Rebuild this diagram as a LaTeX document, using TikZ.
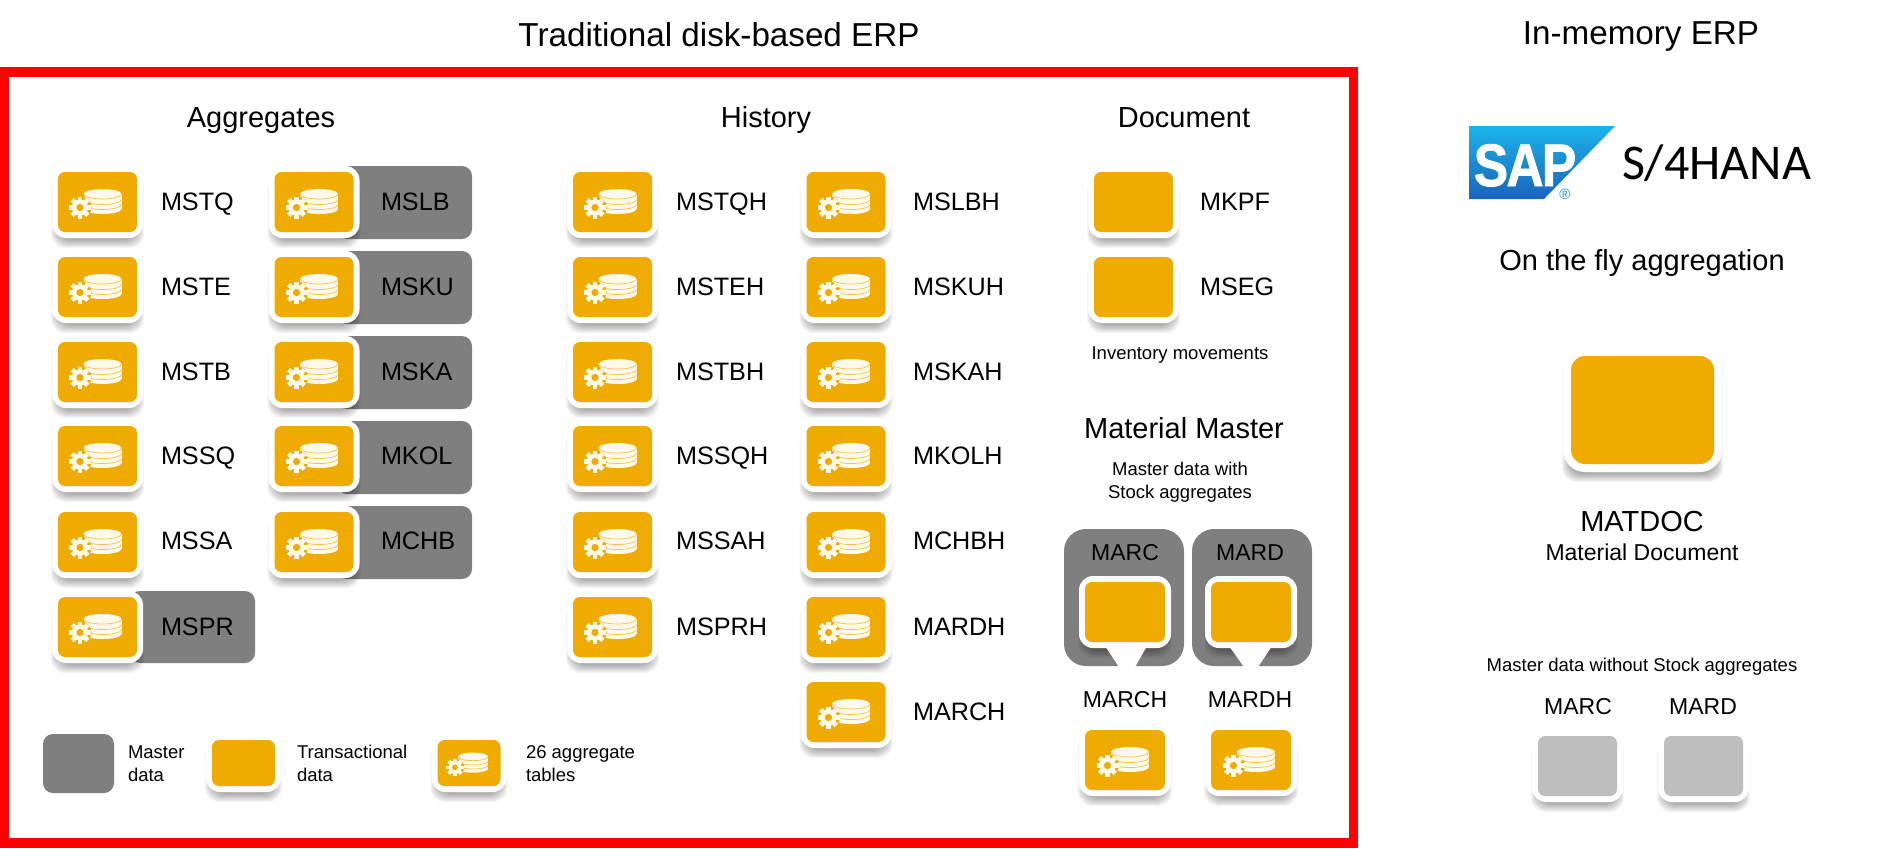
\documentclass[tikz,border=0pt]{standalone}
\usepackage{fontspec}
\setmainfont{Liberation Sans}
\newfontfamily\calibrifont{Carlito}
\newfontfamily\sapfont[FakeStretch=0.86,FakeBold=1.2,LetterSpace=-3]{Liberation Sans Bold}
\definecolor{sapgold}{HTML}{F0AB00}
\definecolor{mastergrey}{HTML}{807F80}
\definecolor{lightgrey}{HTML}{BFBEBF}
\definecolor{cream}{HTML}{FFF9EA}
\definecolor{saplight}{HTML}{1BB3EA}
\definecolor{sapdark}{HTML}{1A64BC}
\tikzset{
  txt/.style={inner sep=0pt,outer sep=0pt,text=black},
  big/.style={txt,font=\fontsize{16.6}{20}\selectfont,anchor=base},
  head/.style={txt,font=\fontsize{14.5}{18}\selectfont,anchor=base},
  lab/.style={txt,font=\fontsize{12.6}{15}\selectfont,anchor=base west},
  labc/.style={txt,font=\fontsize{11.5}{14}\selectfont,anchor=base},
  small/.style={txt,font=\fontsize{9.25}{11.5}\selectfont,anchor=base},
  smallw/.style={txt,font=\fontsize{9.25}{11.5}\selectfont,anchor=base west},
  plate/.style={draw=none,fill=white,inner sep=0pt,minimum width=#1*0.5pt,rounded corners=7pt},
  facebox/.style={draw=none,inner sep=0pt,minimum width=#1*0.5pt,rounded corners=3.5pt},
  greybar/.style={draw=none,fill=mastergrey,inner sep=0pt,rounded corners=5pt}
}
% soft shadow under a plate: centre x, centre y, half width, half height
\newcommand{\softshadow}[4]{%
  \foreach \k in {0,...,8}{%
    \fill[black,opacity=.04,rounded corners=7pt]
      ({#1-#3-1+0.9*\k},{#2-#4+10}) rectangle ({#1+#3+1-0.9*\k},{#2+#4+10-\k});
  }%
}
% stylised database + gear glyph
\newcommand{\dbicon}[3]{%
  \begin{scope}[shift={(#1,#2)},scale=#3]
    \fill[cream] (-14,-8) rectangle (24,7);
    \fill[cream] (5,-8) ellipse[x radius=19,y radius=5];
    \fill[cream] (5,7) ellipse[x radius=19,y radius=5];
    \foreach \yy in {-8,-2.5,2.5}{%
      \draw[sapgold!70!cream,line width=.35pt] (-14,\yy) arc[start angle=180,end angle=0,x radius=19,y radius=5];
    }
    \begin{scope}[shift={(-17.5,5.5)}]
      \fill[sapgold] (0,0) circle[radius=11.5];
      \foreach \a in {0,45,90,135}{%
        \fill[cream,rotate=\a] (-2.4,-11) rectangle (2.4,11);
      }
      \fill[cream] (0,0) circle[radius=8];
      \fill[sapgold] (0,0) circle[radius=3.6];
    \end{scope}
  \end{scope}%
}
% name, cx, cy, width, height, fill colour
\newcommand{\tile}[6]{%
  \softshadow{#2}{#3}{(#4/2+6)}{(#5/2+6)}%
  \node[plate={(#4+12)},minimum height={(#5+12)*0.5pt}] (#1p) at (#2,#3) {};
  \node[facebox={#4},minimum height={#5*0.5pt},fill=#6] (#1) at (#2,#3) {};
}
\newcommand{\agg}[3]{\tile{#1}{#2}{#3}{79}{60}{sapgold}\dbicon{#2}{#3}{1}}
\begin{document}
\begin{tikzpicture}[x=0.5pt,y=-0.5pt]
\useasboundingbox (0,0) rectangle (1899,848);
\fill[white] (0,0) rectangle (1899,848);
% frame
\node[draw=red,line width=4.9pt,inner sep=0pt,minimum width=1349*0.5pt,minimum height=771*0.5pt] (frame) at (679,457.5) {};
% titles
\node[big] (t1) at (719,46) {Traditional disk-based ERP};
\node[big] (t2) at (1641,44) {In-memory ERP};
\node[head] (h1) at (261,127) {Aggregates};
\node[head] (h2) at (766,127) {History};
\node[head] (h3) at (1184,127) {Document};
% grey bars
\node[greybar,minimum width=135*0.5pt,minimum height=73*0.5pt] (b1) at (404.5,202.5) {};
\node[greybar,minimum width=135*0.5pt,minimum height=73*0.5pt] (b2) at (404.5,287.5) {};
\node[greybar,minimum width=135*0.5pt,minimum height=73*0.5pt] (b3) at (404.5,372.5) {};
\node[greybar,minimum width=135*0.5pt,minimum height=73*0.5pt] (b4) at (404.5,457.5) {};
\node[greybar,minimum width=135*0.5pt,minimum height=73*0.5pt] (b5) at (404.5,542.5) {};
\node[greybar,minimum width=125*0.5pt,minimum height=72*0.5pt] (b6) at (192.5,627) {};
% aggregates col 1
\agg{a1}{97.5}{202}\agg{a2}{97.5}{287}\agg{a3}{97.5}{372}\agg{a4}{97.5}{456}\agg{a5}{97.5}{542}\agg{a6}{97.5}{627}
\node[lab] (la1) at (161,210) {MSTQ};
\node[lab] (la2) at (161,295) {MSTE};
\node[lab] (la3) at (161,380) {MSTB};
\node[lab] (la4) at (161,464) {MSSQ};
\node[lab] (la5) at (161,549) {MSSA};
\node[lab] (la6) at (161,635) {MSPR};
% aggregates col 2
\agg{c1}{314}{202}\agg{c2}{314}{287}\agg{c3}{314}{372}\agg{c4}{314}{456}\agg{c5}{314}{542}
\node[lab] (lc1) at (381,210) {MSLB};
\node[lab] (lc2) at (381,295) {MSKU};
\node[lab] (lc3) at (381,380) {MSKA};
\node[lab] (lc4) at (381,464) {MKOL};
\node[lab] (lc5) at (381,549) {MCHB};
% history col 1
\agg{d1}{612.5}{202}\agg{d2}{612.5}{287}\agg{d3}{612.5}{372}\agg{d4}{612.5}{456}\agg{d5}{612.5}{542}\agg{d6}{612.5}{627}
\node[lab] (ld1) at (676,210) {MSTQH};
\node[lab] (ld2) at (676,295) {MSTEH};
\node[lab] (ld3) at (676,380) {MSTBH};
\node[lab] (ld4) at (676,464) {MSSQH};
\node[lab] (ld5) at (676,549) {MSSAH};
\node[lab] (ld6) at (676,635) {MSPRH};
% history col 2
\agg{e1}{846}{202}\agg{e2}{846}{287}\agg{e3}{846}{372}\agg{e4}{846}{456}\agg{e5}{846}{542}\agg{e6}{846}{627}\agg{e7}{846}{712}
\node[lab] (le1) at (913,210) {MSLBH};
\node[lab] (le2) at (913,295) {MSKUH};
\node[lab] (le3) at (913,380) {MSKAH};
\node[lab] (le4) at (913,464) {MKOLH};
\node[lab] (le5) at (913,549) {MCHBH};
\node[lab] (le6) at (913,635) {MARDH};
\node[lab] (le7) at (913,720) {MARCH};
% document
\tile{mkpf}{1133.5}{202}{79}{60}{sapgold}
\tile{mseg}{1133.5}{287}{79}{60}{sapgold}
\node[lab] (lmkpf) at (1200,210) {MKPF};
\node[lab] (lmseg) at (1200,295) {MSEG};
\node[small] (inv) at (1180,359.5) {Inventory movements};
\node[head] (mm) at (1184,438) {Material Master};
\node[small] (mm1) at (1180,475.5) {Master data with};
\node[small] (mm2) at (1180,498.5) {Stock aggregates};
% MARC / MARD
\node[draw=none,fill=mastergrey,inner sep=0pt,rounded corners=11pt,minimum width=120*0.5pt,minimum height=137*0.5pt] (marc) at (1124,597.5) {};
\node[draw=none,fill=mastergrey,inner sep=0pt,rounded corners=11pt,minimum width=120*0.5pt,minimum height=137*0.5pt] (mard) at (1252,597.5) {};
\node[labc] (lmarc) at (1125,560) {MARC};
\node[labc] (lmard) at (1250,560) {MARD};
\tile{ti1}{1125}{612}{80}{60}{sapgold}
\tile{ti2}{1251}{612}{80}{60}{sapgold}
\fill[white] (1105,646) -- (1147,646) -- (1135,667) -- (1119,667) -- cycle;
\fill[white] (1229,646) -- (1272,646) -- (1258,667) -- (1244,667) -- cycle;
\node[labc] (lmarch) at (1125,707) {MARCH};
\node[labc] (lmardh) at (1250,707) {MARDH};
\tile{f1}{1125}{760}{80}{60}{sapgold}\dbicon{1125}{760}{1}
\tile{f2}{1251}{760}{80}{60}{sapgold}\dbicon{1251}{760}{1}
% legend
\node[greybar,minimum width=71*0.5pt,minimum height=59*0.5pt] (lg) at (78.5,763.5) {};
\node[smallw] (lg1) at (128,758.5) {Master};
\node[smallw] (lg2) at (128,781) {data};
\tile{lt}{243.5}{763}{63}{46}{sapgold}
\node[smallw] (lt1) at (297,758.5) {Transactional};
\node[smallw] (lt2) at (297,781) {data};
\tile{la}{469}{763}{63}{46}{sapgold}\dbicon{469}{763}{.8}
\node[smallw] (la1b) at (526,758.5) {26 aggregate};
\node[smallw] (la2b) at (526,781) {tables};
% SAP logo
\shade[top color=saplight,bottom color=sapdark] (1469,126) -- (1615,126) -- (1544,199) -- (1469,199) -- cycle;
\node[txt,text=white,font=\sapfont\fontsize{30}{30}\selectfont,anchor=base] (sap) at (1525,186) {SAP};
\node[txt,text=saplight!60!sapdark,font=\fontsize{7.5}{8}\selectfont,anchor=center] (reg) at (1565,194) {®};
\node[txt,font=\calibrifont\fontsize{25}{30}\selectfont,anchor=base west] (s4) at (1622,179) {S/4HANA};
% in-memory
\node[txt,font=\fontsize{14.5}{18}\selectfont,anchor=base] (otf) at (1642,270) {On the fly aggregation};
\softshadow{1642.5}{410}{79.5}{62}
\node[fill=white,inner sep=0pt,rounded corners=11pt,minimum width=159*0.5pt,minimum height=124*0.5pt] (matp) at (1642.5,410) {};
\node[fill=sapgold,inner sep=0pt,rounded corners=7pt,minimum width=143*0.5pt,minimum height=108*0.5pt] (mat) at (1642.5,410) {};
\node[head] (mt1) at (1642,531) {MATDOC};
\node[txt,font=\fontsize{11.5}{14}\selectfont,anchor=base] (mt2) at (1642,560) {Material Document};
\node[small] (nostock) at (1642,671.5) {Master data without Stock aggregates};
\node[labc] (lm1) at (1578,714) {MARC};
\node[labc] (lm2) at (1703,714) {MARD};
\tile{g1}{1577.5}{766}{79}{60}{lightgrey}
\tile{g2}{1703.5}{766}{79}{60}{lightgrey}
\end{tikzpicture}
\end{document}
